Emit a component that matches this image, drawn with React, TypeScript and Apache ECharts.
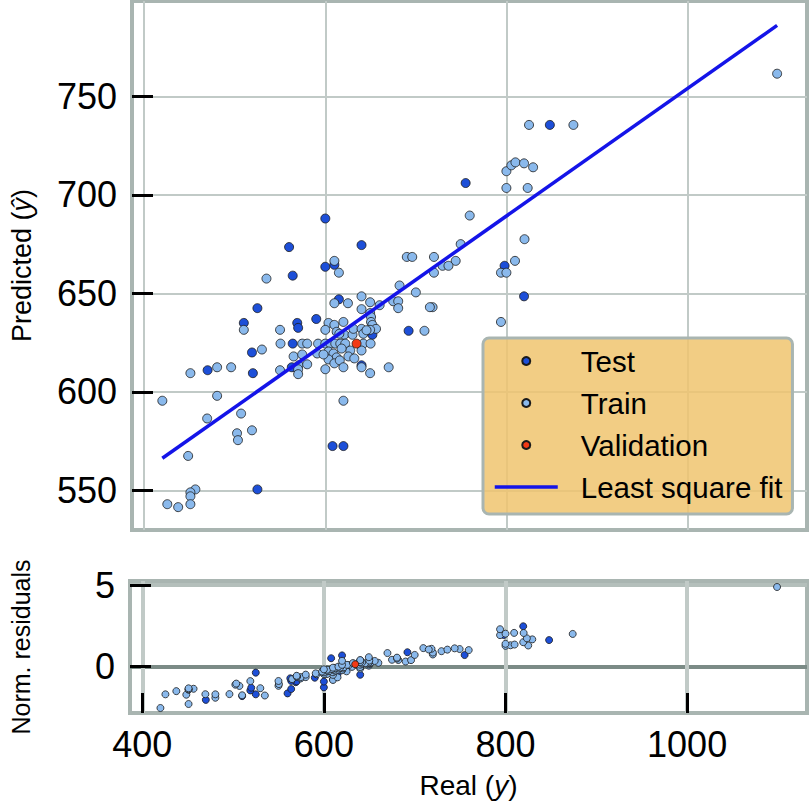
import React, { useEffect, useRef } from "react";
import * as echarts from "echarts";

// Real (y) vs Predicted (y-hat)
const TEST_POINTS: [number, number][] = [
  [755, 706], [600, 688], [560, 673.5], [640, 674.5], [600, 663.5], [610, 664.5],
  [564, 659], [848, 735.5], [798, 664], [819.5, 648.5], [615, 647], [652, 629],
  [692, 631], [525, 642.5], [510, 635], [569, 635], [570, 632.5], [590, 637],
  [564, 624.5], [519, 620], [563, 612.5], [640, 613.5], [470, 611], [520, 609.5],
  [608, 572.5], [620, 572.5], [525, 550.5],
];

const TRAIN_POINTS: [number, number][] = [
  [1099, 761.5], [825, 735.5], [874, 735.5], [800, 712], [805.5, 715], [810, 716.5],
  [819.5, 716], [829.5, 714], [800, 703.5], [823.5, 703.5], [759.5, 689.5], [749.5, 675],
  [820, 677.5], [690, 668.5], [696, 668.5], [720, 668.5], [744, 666.5], [729.5, 664],
  [736, 664], [720, 660.5], [809.5, 666.5], [794, 660.5], [800, 660.5], [794, 635.5],
  [718.5, 643], [709.5, 631], [610, 666.5], [615, 660.5], [535, 657.5], [610, 645],
  [625, 645], [640, 648.5], [649.5, 645.5], [660, 644], [640, 642], [649.5, 640],
  [650.5, 638], [650.5, 635.5], [652, 634], [656, 632], [649.5, 631.5], [682, 654],
  [675, 646], [680.5, 646], [680.5, 642.5], [700, 650.5], [715.5, 643], [510, 631.5],
  [550, 631.5], [603.5, 635], [610, 634], [620, 635.5], [600, 631.5], [612.5, 630.5],
  [621, 629], [630, 629], [631, 632], [640, 632], [642, 629.5], [615.5, 629.5],
  [645.5, 631.3], [550.5, 624.5], [574.5, 624.5], [580, 624.5], [592, 624.5], [600, 624.5],
  [605.5, 624.5], [611, 624.5], [616.5, 624.5], [622, 624.5], [642, 624.5], [650, 624.5],
  [530, 621.5], [565, 618], [574.5, 619], [591, 619.5], [603.5, 620.5], [609, 619.5],
  [612.5, 617.5], [603.5, 616.5], [610, 614.5], [627.5, 621], [640, 621], [625.5, 618],
  [618, 622], [598, 619], [616, 616], [632, 617], [570.5, 613.5], [570, 611.5],
  [570, 609], [580, 614], [550, 611], [600, 611.5], [620, 612.5], [640, 612.5],
  [649.5, 609.5], [670, 612.5], [480.5, 612.5], [451, 609.5], [496, 612.5], [480.5, 598],
  [420, 595.5], [620, 595.5], [469.5, 586.5], [507, 589], [502.5, 579], [503.5, 575.5],
  [519, 580.5], [448.5, 567.5], [456.5, 550.5], [451, 549], [451, 547], [425.5, 543],
  [437.5, 541.5], [451, 543],
];

const VALIDATION_POINTS: [number, number][] = [[634.5, 624.5]];

// Least-square fit line end points
const FIT_LINE: [number, number][] = [[420, 566.3], [1099, 786]];

const X_TICKS = [400, 600, 800, 1000];
const Y_TICKS = [550, 600, 650, 700, 750];
const RESID_TICKS = [0, 5];
const RESIDUAL_SCALE = 69; // normalisation of residuals

const residuals = (pts: [number, number][]) =>
  pts.map(([x, y]) => [x, (x - y) / RESIDUAL_SCALE]);

const FONT = "'Liberation Sans', Arial, Helvetica, sans-serif";
const FRAME = "#a9b5b1";
const GRIDC = "#c1cac7";
const C_TEST = "#1d4fd8";
const C_TRAIN = "#8ab9ec";
const C_VAL = "#f23a16";
const C_FIT = "#1414e8";
const plain = (v: number) => String(v);

export default function App() {
  const ref = useRef<HTMLDivElement>(null);
  useEffect(() => {
    if (!ref.current) return;
    const chart = echarts.init(ref.current, undefined, { renderer: "svg" });
    const pointStyle = (c: string) => ({ color: c, borderColor: "#1a1a1a", borderWidth: 0.8, opacity: 1 });
    const option: any = {
      animation: false,
      backgroundColor: "#ffffff",
      textStyle: { fontFamily: FONT },
      grid: [
        { left: 127, top: 1, width: 680, height: 529, show: true, borderColor: FRAME, borderWidth: 4, backgroundColor: "#fff" },
        { left: 127, top: 581, width: 680, height: 132, show: true, borderColor: FRAME, borderWidth: 4, backgroundColor: "#fff" },
      ],
      xAxis: [
        {
          type: "value", gridIndex: 0, min: 386.5, max: 1132,
          axisLine: { show: false, onZero: false },
          axisTick: { show: false, customValues: X_TICKS },
          axisLabel: { show: false, customValues: X_TICKS },
          splitLine: { show: true, lineStyle: { color: GRIDC, width: 2 } },
        },
        {
          type: "value", gridIndex: 1, min: 386.5, max: 1132,
          axisLine: { show: false, onZero: false },
          axisTick: { show: true, inside: true, length: 20, customValues: X_TICKS, lineStyle: { color: "#000", width: 3 } },
          axisLabel: { customValues: X_TICKS, fontSize: 36, color: "#000", margin: 13, fontFamily: FONT, formatter: plain },
          splitLine: { show: true, lineStyle: { color: GRIDC, width: 4 } },
          name: "Real ({i|y})", nameLocation: "middle", nameGap: 58,
          nameTextStyle: {
            fontSize: 28, color: "#000", fontFamily: FONT,
            rich: { i: { fontStyle: "italic", fontSize: 28, color: "#000", fontFamily: FONT } },
          },
        },
      ],
      yAxis: [
        {
          type: "value", gridIndex: 0, min: 529.9, max: 798.4,
          axisLine: { show: false, onZero: false },
          axisTick: { show: true, inside: true, length: 21, customValues: Y_TICKS, lineStyle: { color: "#000", width: 3 } },
          axisLabel: { customValues: Y_TICKS, fontSize: 36, color: "#000", margin: 15, fontFamily: FONT, formatter: plain },
          splitLine: { show: true, lineStyle: { color: GRIDC, width: 2 } },
          name: "Predicted ({i|ŷ})", nameLocation: "middle", nameGap: 97,
          nameTextStyle: {
            fontSize: 27, color: "#000", fontFamily: FONT,
            rich: { i: { fontStyle: "italic", fontSize: 27, color: "#000", fontFamily: FONT } },
          },
        },
        {
          type: "value", gridIndex: 1, min: -2.85, max: 5.26,
          axisLine: { show: false, onZero: false },
          axisTick: { show: true, inside: true, length: 21, customValues: RESID_TICKS, lineStyle: { color: "#000", width: 3 } },
          axisLabel: { customValues: RESID_TICKS, fontSize: 36, color: "#000", margin: 15, fontFamily: FONT, formatter: plain },
          splitLine: { show: true, lineStyle: { color: ["#7b8b86", "#b4bfbb"], width: 4 } },
          name: "Norm. residuals", nameLocation: "middle", nameGap: 97,
          nameTextStyle: { fontSize: 25, color: "#000", fontFamily: FONT },
        },
      ],
      legend: {
        data: [
          "Test",
          "Train",
          "Validation",
          { name: "Least square fit", itemStyle: { opacity: 0 }, lineStyle: { width: 3.5, color: C_FIT } },
        ],
        orient: "vertical", left: 483, top: 338, z: 20,
        itemWidth: 63, itemHeight: 8, itemGap: 12,
        padding: [8, 10, 12, 10],
        backgroundColor: "rgba(240,196,110,0.85)",
        borderColor: FRAME, borderWidth: 3, borderRadius: 6,
        textStyle: { fontSize: 29.5, color: "#000", lineHeight: 30, fontFamily: FONT, padding: [0, 0, 0, 18] },
      },
      series: [
        { name: "Test", type: "scatter", xAxisIndex: 0, yAxisIndex: 0, data: TEST_POINTS, symbolSize: 9, itemStyle: pointStyle(C_TEST), z: 2 },
        { name: "Train", type: "scatter", xAxisIndex: 0, yAxisIndex: 0, data: TRAIN_POINTS, symbolSize: 9, itemStyle: pointStyle(C_TRAIN), z: 3 },
        { name: "Validation", type: "scatter", xAxisIndex: 0, yAxisIndex: 0, data: VALIDATION_POINTS, symbolSize: 9, itemStyle: pointStyle(C_VAL), z: 4 },
        { name: "Least square fit", type: "line", xAxisIndex: 0, yAxisIndex: 0, data: FIT_LINE, symbol: "none", lineStyle: { color: C_FIT, width: 3.5 }, z: 5 },
        { name: "Test", type: "scatter", xAxisIndex: 1, yAxisIndex: 1, data: residuals(TEST_POINTS), symbolSize: 7, itemStyle: pointStyle(C_TEST), z: 2 },
        { name: "Train", type: "scatter", xAxisIndex: 1, yAxisIndex: 1, data: residuals(TRAIN_POINTS), symbolSize: 7, itemStyle: pointStyle(C_TRAIN), z: 3 },
        { name: "Validation", type: "scatter", xAxisIndex: 1, yAxisIndex: 1, data: residuals(VALIDATION_POINTS), symbolSize: 7, itemStyle: pointStyle(C_VAL), z: 4 },
      ],
    };
    chart.setOption(option);
    return () => chart.dispose();
  }, []);
  return (
    <div
      ref={ref}
      style={{ position: "absolute", left: 0, top: 0, width: 810, height: 804, background: "#fff" }}
    />
  );
}
